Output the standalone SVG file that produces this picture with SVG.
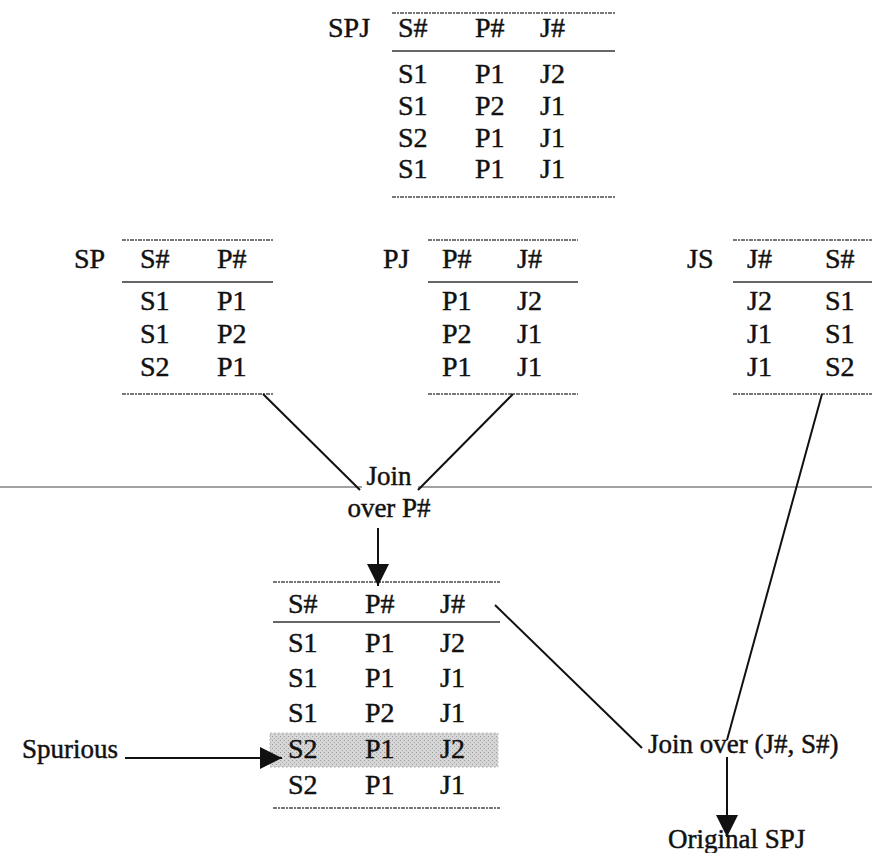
<svg xmlns="http://www.w3.org/2000/svg" width="872" height="853" viewBox="0 0 872 853">
  <style>
    text { font-family: "Liberation Serif", "Times New Roman", serif; font-size: 28px; fill: #111; stroke: #111; stroke-width: 0.45; }
    .label { font-size: 27px; }
    .rule-outer { stroke: #777; stroke-width: 2.2; stroke-dasharray: 4 1 2 1; fill: none; }
    .rule-head { stroke: #333; stroke-width: 1.5; fill: none; }
    .conn { stroke: #111; stroke-width: 2; fill: none; }
    .edge { stroke: #444; stroke-width: 1; fill: none; }
    .spurious { fill: url(#stipple); stroke: #bbb; stroke-width: 1; stroke-dasharray: 2 2; }
  </style>
  <defs>
    <marker id="arrowBig" viewBox="0 0 10 10" refX="10" refY="5" markerWidth="11" markerHeight="11" orient="auto">
      <path d="M0,0 L10,5 L0,10 Z" fill="#111"/>
    </marker>
    <pattern id="stipple" width="4" height="4" patternUnits="userSpaceOnUse">
      <rect width="4" height="4" fill="#d6d6d6"/>
      <rect x="0" y="0" width="1" height="1" fill="#9a9a9a"/>
      <rect x="2" y="2" width="1" height="1" fill="#a8a8a8"/>
    </pattern>
  </defs>

  <!-- Relation SPJ -->
  <g id="table-spj">
    <text x="328" y="37">SPJ</text>
    <line class="rule-outer" x1="392" y1="13" x2="615" y2="13"/>
    <text x="398" y="37">S#</text><text x="475" y="37">P#</text><text x="540" y="37">J#</text>
    <line class="rule-head" x1="392" y1="51" x2="615" y2="51"/>
    <text x="398" y="83">S1</text><text x="475" y="83">P1</text><text x="540" y="83">J2</text>
    <text x="398" y="115">S1</text><text x="475" y="115">P2</text><text x="540" y="115">J1</text>
    <text x="398" y="147">S2</text><text x="475" y="147">P1</text><text x="540" y="147">J1</text>
    <text x="398" y="178">S1</text><text x="475" y="178">P1</text><text x="540" y="178">J1</text>
    <line class="rule-outer" x1="392" y1="197" x2="615" y2="197"/>
  </g>

  <!-- Projection SP -->
  <g id="table-sp">
    <text x="74" y="268">SP</text>
    <line class="rule-outer" x1="122" y1="240" x2="273" y2="240"/>
    <text x="140" y="268">S#</text><text x="217" y="268">P#</text>
    <line class="rule-head" x1="122" y1="282" x2="273" y2="282"/>
    <text x="140" y="310">S1</text><text x="217" y="310">P1</text>
    <text x="140" y="343">S1</text><text x="217" y="343">P2</text>
    <text x="140" y="376">S2</text><text x="217" y="376">P1</text>
    <line class="rule-outer" x1="122" y1="394" x2="273" y2="394"/>
  </g>

  <!-- Projection PJ -->
  <g id="table-pj">
    <text x="383" y="268">PJ</text>
    <line class="rule-outer" x1="428" y1="240" x2="578" y2="240"/>
    <text x="442" y="268">P#</text><text x="517" y="268">J#</text>
    <line class="rule-head" x1="428" y1="282" x2="578" y2="282"/>
    <text x="442" y="310">P1</text><text x="517" y="310">J2</text>
    <text x="442" y="343">P2</text><text x="517" y="343">J1</text>
    <text x="442" y="376">P1</text><text x="517" y="376">J1</text>
    <line class="rule-outer" x1="428" y1="394" x2="578" y2="394"/>
  </g>

  <!-- Projection JS -->
  <g id="table-js">
    <text x="687" y="268">JS</text>
    <line class="rule-outer" x1="733" y1="240" x2="872" y2="240"/>
    <text x="747" y="268">J#</text><text x="825" y="268">S#</text>
    <line class="rule-head" x1="733" y1="282" x2="872" y2="282"/>
    <text x="747" y="310">J2</text><text x="825" y="310">S1</text>
    <text x="747" y="343">J1</text><text x="825" y="343">S1</text>
    <text x="747" y="376">J1</text><text x="825" y="376">S2</text>
    <line class="rule-outer" x1="733" y1="394" x2="872" y2="394"/>
  </g>

  <!-- Join of SP and PJ over P# -->
  <g id="join-p">
    <text class="label" x="389" y="485" text-anchor="middle">Join</text>
    <text class="label" x="389" y="517" text-anchor="middle">over P#</text>
  </g>

  <!-- Result of the first join -->
  <g id="table-spj-joined">
    <rect class="spurious" x="270" y="733" width="228" height="34"/>
    <line class="rule-outer" x1="273" y1="582" x2="500" y2="582"/>
    <text x="288" y="613">S#</text><text x="365" y="613">P#</text><text x="440" y="613">J#</text>
    <line class="rule-head" x1="273" y1="622" x2="500" y2="622"/>
    <text x="288" y="652">S1</text><text x="365" y="652">P1</text><text x="440" y="652">J2</text>
    <text x="288" y="687">S1</text><text x="365" y="687">P1</text><text x="440" y="687">J1</text>
    <text x="288" y="722">S1</text><text x="365" y="722">P2</text><text x="440" y="722">J1</text>
    <text x="288" y="758">S2</text><text x="365" y="758">P1</text><text x="440" y="758">J2</text>
    <text x="288" y="794">S2</text><text x="365" y="794">P1</text><text x="440" y="794">J1</text>
    <line class="rule-outer" x1="273" y1="808" x2="500" y2="808"/>
  </g>

  <g id="label-spurious">
    <text class="label" x="22" y="758">Spurious</text>
  </g>

  <g id="join-js">
    <text class="label" x="648" y="753">Join over (J#, S#)</text>
  </g>

  <g id="result-original">
    <text class="label" x="668" y="848">Original SPJ</text>
  </g>

  <!-- Connectors -->
  <g id="connectors">
    <line class="edge" x1="0" y1="487" x2="362" y2="487"/>
    <line class="edge" x1="418" y1="487" x2="872" y2="487"/>
    <line class="conn" x1="263" y1="394" x2="360" y2="490"/>
    <line class="conn" x1="513" y1="394" x2="418" y2="490"/>
    <line class="conn" x1="378" y1="528" x2="378" y2="586" marker-end="url(#arrowBig)"/>
    <line class="conn" x1="495" y1="605" x2="642" y2="748"/>
    <line class="conn" x1="822" y1="394" x2="727" y2="740"/>
    <line class="conn" x1="727" y1="757" x2="727" y2="837" marker-end="url(#arrowBig)"/>
    <line class="conn" x1="125" y1="758" x2="282" y2="758" marker-end="url(#arrowBig)"/>
  </g>
</svg>
